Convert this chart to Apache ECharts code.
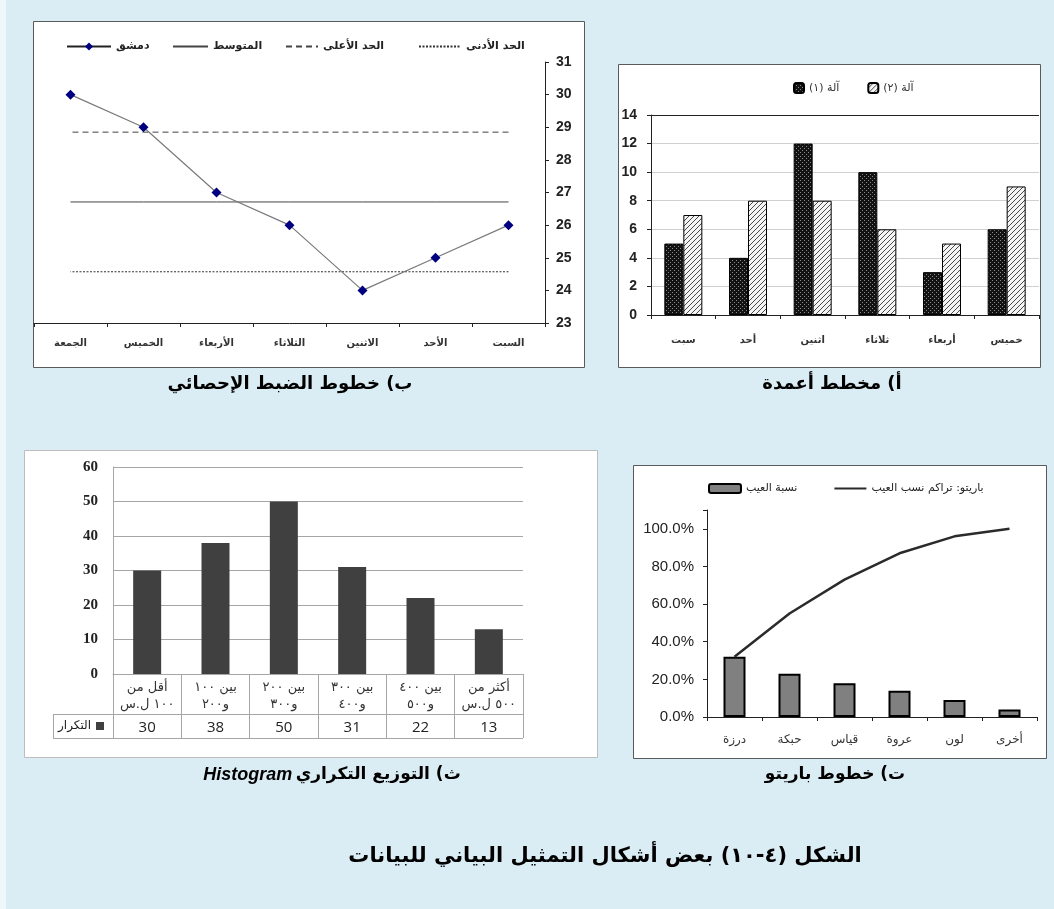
<!DOCTYPE html>
<html>
<head>
<meta charset="utf-8">
<script src="https://cdn.jsdelivr.net/npm/echarts@6/dist/echarts.min.js"></script>
<style>
html,body{margin:0;padding:0;background:#dbedf4;}
#chart{position:absolute;left:0;top:0;width:1054px;height:909px;}
</style>
</head>
<body>
<div id="chart" dir="rtl"></div>
<script>
// ---- (ب) control chart ----
const controlDays = ['السبت', 'الأحد', 'الاثنين', 'الثلاثاء', 'الأربعاء', 'الخميس', 'الجمعة'];
const damascusValues = [26, 25, 24, 26, 27, 29, 30];
const controlMean = 26.71;
const controlUpper = 28.85;
const controlLower = 24.57;
const controlMin = 23, controlMax = 31, controlStep = 1;

// ---- (أ) grouped bar chart ----
const barDays = ['سبت', 'أحد', 'اثنين', 'ثلاثاء', 'أربعاء', 'خميس'];
const machine1 = [5, 4, 12, 10, 3, 6];
const machine2 = [7, 8, 8, 6, 5, 9];
const barMin = 0, barMax = 14, barStep = 2;

// ---- (ث) histogram with data table ----
const histBins = ['أقل من\n١٠٠ ل.س', 'بين ١٠٠\nو٢٠٠', 'بين ٢٠٠\nو٣٠٠', 'بين ٣٠٠\nو٤٠٠', 'بين ٤٠٠\nو٥٠٠', 'أكثر من\n٥٠٠ ل.س'];
const histFreq = [30, 38, 50, 31, 22, 13];
const histMin = 0, histMax = 60, histStep = 10;

// ---- (ت) Pareto chart ----
const defectTypes = ['درزة', 'حبكة', 'قياس', 'عروة', 'لون', 'أخرى'];
const defectShare = [32, 23, 18, 14, 9, 4];
const defectCumulative = [32, 55, 73, 87, 96, 100];
const paretoMin = 0, paretoMax = 110, paretoStep = 20;

const AR = "'DejaVu Sans', sans-serif";
const NARROW = "'Liberation Sans Narrow', 'Liberation Sans', Arial, sans-serif";

// stippled black fill for machine 1
function dotPattern() {
  const c = document.createElement('canvas');
  c.width = 4; c.height = 4;
  const g = c.getContext('2d');
  g.fillStyle = '#121212'; g.fillRect(0, 0, 4, 4);
  g.fillStyle = '#8a8a8a'; g.fillRect(0, 0, 1, 1); g.fillRect(2, 2, 1, 1);
  return c;
}
// diagonal hatch for machine 2
function hatchPattern() {
  const c = document.createElement('canvas');
  c.width = 5; c.height = 5;
  const g = c.getContext('2d');
  g.fillStyle = '#f4f4f4'; g.fillRect(0, 0, 5, 5);
  g.strokeStyle = '#4a4a4a'; g.lineWidth = 1;
  g.beginPath();
  g.moveTo(0, 5); g.lineTo(5, 0);
  g.moveTo(-1, 1); g.lineTo(1, -1);
  g.moveTo(4, 6); g.lineTo(6, 4);
  g.stroke();
  return c;
}

const chart = echarts.init(document.getElementById('chart'), null, { renderer: 'canvas' });

function panel(x, y, w, h, stroke) {
  return { type: 'rect', z: -10, shape: { x: x + 0.5, y: y + 0.5, width: w, height: h },
    style: { fill: '#fff', stroke: stroke, lineWidth: 1 } };
}
function caption(text, x, y, size) {
  return { type: 'text', z: 10, x: x, y: y,
    style: { text: text, align: 'center', verticalAlign: 'middle', fill: '#000',
      fontSize: size, fontWeight: 'bold', fontFamily: AR } };
}
function hline(x1, x2, y, color) {
  return { type: 'line', z: 5, shape: { x1: x1, y1: y + 0.5, x2: x2, y2: y + 0.5 },
    style: { stroke: color, lineWidth: 1 } };
}
function vline(x, y1, y2, color) {
  return { type: 'line', z: 5, shape: { x1: x + 0.5, y1: y1, x2: x + 0.5, y2: y2 },
    style: { stroke: color, lineWidth: 1 } };
}

// plain-line legend entries carry no marker
const lineOnly = name => ({ name: name, itemStyle: { opacity: 0 } });

const lineLegend = (item, left, w) => ({
  data: [item], left: left, top: 41, padding: 0, itemWidth: w, itemHeight: 10, itemGap: 0,
  selectedMode: false,
  textStyle: { fontFamily: AR, fontSize: 11, fontWeight: 'bold', color: '#222' }
});

const option = {
  backgroundColor: '#dbedf4',
  animation: false,
  grid: [
    { left: 34, right: 1054 - 545, top: 62, bottom: 909 - 323 },
    { left: 651, right: 1054 - 1039, top: 115, bottom: 909 - 315 },
    { left: 113, right: 1054 - 523, top: 467, bottom: 909 - 674 },
    { left: 707, right: 1054 - 1037, top: 717 - 207, bottom: 909 - 717 }
  ],
  legend: [
    lineLegend({ name: 'دمشق', lineStyle: { color: '#222' } }, 66, 44),
    lineLegend(lineOnly('المتوسط'), 172, 35),
    lineLegend(lineOnly('الحد الأعلى'), 285, 32),
    lineLegend(lineOnly('الحد الأدنى'), 418, 42),
    { data: ['آلة (١)', 'آلة (٢)'], left: 793, top: 82, padding: 0, itemWidth: 10, itemHeight: 10,
      itemGap: 28, selectedMode: false,
      textStyle: { fontFamily: AR, fontSize: 11, color: '#333' } },
    { data: ['التكرار'], left: 58, top: 720, padding: 0, itemWidth: 8, itemHeight: 8, align: 'right',
      selectedMode: false, icon: 'rect',
      textStyle: { fontFamily: AR, fontSize: 12, color: '#222' } },
    { data: ['نسبة العيب', lineOnly('باريتو: تراكم نسب العيب')], left: 708, top: 483, padding: 0,
      itemWidth: 32, itemHeight: 9, itemGap: 36, selectedMode: false,
      textStyle: { fontFamily: AR, fontSize: 11, color: '#222' } }
  ],
  xAxis: [
    { gridIndex: 0, type: 'category', data: controlDays, inverse: true, boundaryGap: true,
      axisLine: { lineStyle: { color: '#222', width: 1 } },
      axisTick: { show: true, length: 4, lineStyle: { color: '#222' } },
      axisLabel: { margin: 15, fontFamily: AR, fontSize: 10, fontWeight: 'bold', color: '#333' } },
    { gridIndex: 1, type: 'category', data: barDays, boundaryGap: true,
      axisLine: { lineStyle: { color: '#222' } },
      axisTick: { show: true, length: 4, lineStyle: { color: '#222' } },
      axisLabel: { margin: 20, fontFamily: AR, fontSize: 10, fontWeight: 'bold', color: '#333' } },
    { gridIndex: 2, type: 'category', data: histBins, boundaryGap: true,
      axisLine: { lineStyle: { color: '#a6a6a6' } },
      axisTick: { show: true, length: 64, interval: 0, lineStyle: { color: '#a6a6a6' } },
      axisLabel: { margin: 5, interval: 0, fontFamily: AR, fontSize: 13, lineHeight: 17, color: '#333' } },
    { gridIndex: 2, type: 'category', data: histBins, boundaryGap: true, position: 'bottom', offset: 40,
      axisLine: { show: false }, axisTick: { show: false },
      axisLabel: { margin: 6, interval: 0, fontFamily: "'Open Sans', 'Liberation Sans', sans-serif", fontSize: 15,
        color: '#222', formatter: (v, i) => String(histFreq[i]) } },
    { gridIndex: 3, type: 'category', data: defectTypes, boundaryGap: true,
      axisLine: { lineStyle: { color: '#222' } },
      axisTick: { show: true, length: 4, lineStyle: { color: '#222' } },
      axisLabel: { margin: 17, interval: 0, fontFamily: AR, fontSize: 12, color: '#333' } }
  ],
  yAxis: [
    { gridIndex: 0, type: 'value', position: 'right', min: controlMin, max: controlMax, interval: controlStep,
      axisLine: { show: true, lineStyle: { color: '#222' } },
      axisTick: { show: true, length: 4, lineStyle: { color: '#222' } },
      splitLine: { show: false },
      axisLabel: { margin: 11, fontFamily: NARROW, fontSize: 14, fontWeight: 'bold', color: '#222' } },
    { gridIndex: 1, type: 'value', min: barMin, max: barMax, interval: barStep,
      axisLine: { show: true, lineStyle: { color: '#222' } },
      axisTick: { show: true, length: 4, lineStyle: { color: '#222' } },
      splitLine: { show: true, lineStyle: { color: ['#d0d0d0', '#d0d0d0', '#d0d0d0', '#d0d0d0', '#d0d0d0', '#d0d0d0', '#d0d0d0', '#222'] } },
      axisLabel: { margin: 14, fontFamily: NARROW, fontSize: 14, fontWeight: 'bold', color: '#222' } },
    { gridIndex: 2, type: 'value', min: histMin, max: histMax, interval: histStep,
      axisLine: { show: true, lineStyle: { color: '#a6a6a6' } },
      axisTick: { show: false },
      splitLine: { show: true, lineStyle: { color: '#a6a6a6' } },
      axisLabel: { margin: 15, fontFamily: "'Liberation Serif', serif", fontSize: 15, fontWeight: 'bold', color: '#222' } },
    { gridIndex: 3, type: 'value', min: paretoMin, max: paretoMax, interval: paretoStep,
      axisLine: { show: true, lineStyle: { color: '#222' } },
      axisTick: { show: true, length: 4, lineStyle: { color: '#222' } },
      splitLine: { show: false },
      axisLabel: { margin: 13, fontFamily: "'Liberation Sans', Arial, sans-serif", fontSize: 15, color: '#222',
        formatter: v => (v > 100 ? '' : v.toFixed(1) + '%') } }
  ],
  series: [
    { name: 'الحد الأدنى', type: 'line', xAxisIndex: 0, yAxisIndex: 0, symbol: 'none', z: 2,
      data: controlDays.map(() => controlLower),
      lineStyle: { color: '#333', width: 1, type: [2, 1.5] }, itemStyle: { color: '#333' } },
    { name: 'الحد الأعلى', type: 'line', xAxisIndex: 0, yAxisIndex: 0, symbol: 'none', z: 2,
      data: controlDays.map(() => controlUpper),
      lineStyle: { color: '#444', width: 1, type: [6, 4] }, itemStyle: { color: '#444' } },
    { name: 'المتوسط', type: 'line', xAxisIndex: 0, yAxisIndex: 0, symbol: 'none', z: 2,
      data: controlDays.map(() => controlMean),
      lineStyle: { color: '#444', width: 1 }, itemStyle: { color: '#444' } },
    { name: 'دمشق', type: 'line', xAxisIndex: 0, yAxisIndex: 0, z: 3,
      data: damascusValues, symbol: 'diamond', symbolSize: 10,
      lineStyle: { color: '#7a7a7a', width: 1.2 }, itemStyle: { color: '#000080' } },

    { name: 'آلة (١)', type: 'bar', xAxisIndex: 1, yAxisIndex: 1, data: machine1, barWidth: 19, barGap: '0%',
      itemStyle: { color: { image: dotPattern(), repeat: 'repeat' }, borderColor: '#000', borderWidth: 1 } },
    { name: 'آلة (٢)', type: 'bar', xAxisIndex: 1, yAxisIndex: 1, data: machine2, barWidth: 19, barGap: '0%',
      itemStyle: { color: { image: hatchPattern(), repeat: 'repeat' }, borderColor: '#000', borderWidth: 1 } },

    { name: 'التكرار', type: 'bar', xAxisIndex: 2, yAxisIndex: 2, data: histFreq, barWidth: 28,
      itemStyle: { color: '#404040' } },

    { name: 'نسبة العيب', type: 'bar', xAxisIndex: 4, yAxisIndex: 3, data: defectShare, barWidth: 22,
      itemStyle: { color: '#808080', borderColor: '#000', borderWidth: 2 } },
    { name: 'باريتو: تراكم نسب العيب', type: 'line', xAxisIndex: 4, yAxisIndex: 3, data: defectCumulative,
      symbol: 'none', z: 4, lineStyle: { color: '#2b2b2b', width: 2.5 }, itemStyle: { color: '#2b2b2b' } }
  ],
  graphic: [
    { type: 'rect', z: -20, shape: { x: 0, y: 0, width: 6, height: 909 }, style: { fill: '#eef7fa' } },
    panel(33, 21, 551, 346, '#5a5a5a'),
    panel(618, 64, 422, 303, '#5a5a5a'),
    panel(24, 450, 573, 307, '#bdbdbd'),
    panel(633, 465, 413, 293, '#5a5a5a'),
    // data-table rows under the histogram
    hline(53, 523, 714, '#a6a6a6'),
    hline(53, 523, 738, '#a6a6a6'),
    vline(53, 714, 738, '#a6a6a6'),
    caption('ب) خطوط الضبط الإحصائي', 290, 384, 18),
    caption('أ) مخطط أعمدة', 832, 384, 18),
    caption('ت) خطوط باريتو', 835, 775, 17),
    { type: 'text', z: 10, x: 332, y: 775,
      style: { text: '{b|Histogram} {a|ث) التوزيع التكراري}', align: 'center', verticalAlign: 'middle',
        fill: '#000',
        rich: {
          a: { fontSize: 17, fontWeight: 'bold', fontFamily: AR, fill: '#000' },
          b: { fontSize: 18, fontWeight: 'bold', fontStyle: 'italic', fontFamily: "'Liberation Sans', Arial, sans-serif", fill: '#000' }
        } } },
    caption('الشكل (٤-١٠) بعض أشكال التمثيل البياني للبيانات', 605, 857, 21)
  ]
};

chart.setOption(option);
</script>
</body>
</html>
